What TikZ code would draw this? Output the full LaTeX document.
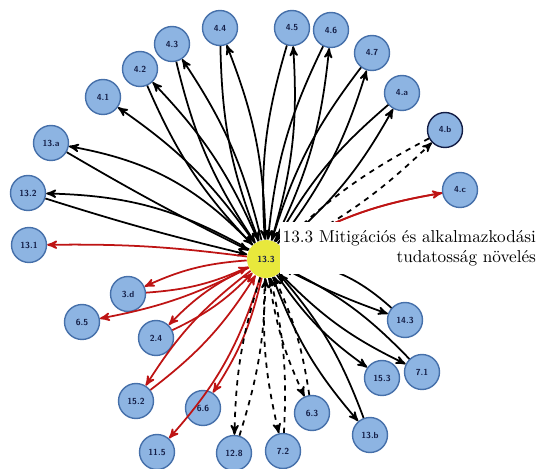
\documentclass[tikz,border=0pt]{standalone}
\usepackage{tikz}
\usetikzlibrary{arrows,positioning}
\definecolor{tblue}{RGB}{141,180,226}
\definecolor{tborder}{RGB}{70,112,170}
\definecolor{tnavy}{RGB}{20,30,70}
\definecolor{tyellow}{RGB}{232,232,60}
\definecolor{tred}{RGB}{190,20,20}
\tikzset{target node/.style={circle,fill=tblue,draw=tborder,line width=0.8pt,minimum size=7mm,inner sep=0pt,text=tnavy,font=\fontsize{5}{5}\selectfont\bfseries\sffamily},
         hub node/.style={circle,fill=tyellow,draw=none,minimum size=7.6mm,inner sep=0pt,text=tnavy,font=\fontsize{5}{5}\selectfont\bfseries\sffamily},
         caption/.style={rectangle,fill=white,draw=none,align=right,inner xsep=1.5pt,inner ysep=4.5pt,font=\fontsize{9.8}{11.4}\selectfont},
         out edge/.style={->,black,line width=1pt,bend right=10},
         back edge/.style={->,black,line width=1pt,bend right=10},
         red edge/.style={->,tred,line width=1pt,bend right=10},
         dash edge/.style={->,black,line width=1pt,dashed,bend right=8},
}

\begin{document}
\begin{tikzpicture}[>=stealth', x=0.02cm, y=-0.02cm]
\useasboundingbox (0,0) rectangle (541,469);
% hub
\node [hub node] (c) at (266,259) {13.3};
% upper left
\node [target node] (n44) at (220,28) {4.4};
\node [target node] (n43) at (172,44) {4.3};
\node [target node] (n42) at (140,69) {4.2};
\node [target node] (n41) at (103,97) {4.1};
\node [target node] (n13a) at (51,143) {13.a};
\node [target node] (n132) at (28,193) {13.2};
\node [target node] (n131) at (29,245) {13.1};
% upper right
\node [target node] (n45) at (292,28) {4.5};
\node [target node] (n46) at (331,30) {4.6};
\node [target node] (n47) at (372,53) {4.7};
\node [target node] (n4a) at (402,93) {4.a};
\node [target node, draw=tnavy] (n4b) at (445,130) {4.b};
\node [target node] (n4c) at (460,190) {4.c};
% lower left
\node [target node] (n3d) at (128,294) {3.d};
\node [target node] (n65) at (82,322) {6.5};
\node [target node] (n24) at (156,338) {2.4};
\node [target node] (n152) at (136,401) {15.2};
\node [target node] (n66) at (203,408) {6.6};
\node [target node] (n115) at (157,452) {11.5};
% lower right
\node [target node] (n128) at (234,453) {12.8};
\node [target node] (n72) at (283,451) {7.2};
\node [target node] (n63) at (312,413) {6.3};
\node [target node] (n13b) at (370,435) {13.b};
\node [target node] (n153) at (382,378) {15.3};
\node [target node] (n71) at (422,372) {7.1};
\node [target node] (n143) at (405,320) {14.3};

% black edges, top
\draw [out edge] (c) to (n44);
\draw [back edge] (n44) to (c);
\draw [out edge] (c) to (n43);
\draw [back edge] (n43) to (c);
\draw [out edge] (c) to (n42);
\draw [back edge] (n42) to (c);
\draw [out edge] (c) to (n41);
\draw [out edge, bend right=18] (c) to (n13a);
\draw [back edge, bend right=2] (n13a) to (c);
\draw [out edge, bend right=14] (c) to (n132);
\draw [back edge, bend right=2] (n132) to (c);
\draw [out edge] (c) to (n45);
\draw [back edge] (n45) to (c);
\draw [out edge] (c) to (n46);
\draw [back edge] (n46) to (c);
\draw [out edge] (c) to (n47);
\draw [back edge] (n47) to (c);
\draw [out edge] (c) to (n4a);
\draw [back edge] (n4a) to (c);
\draw [dash edge] (c) to (n4b);
\draw [dash edge] (n4b) to (c);
% red edges
\draw [red edge, bend left=10] (c) to (n4c);
\draw [red edge, -] (n4c) to (c);
\draw [red edge, bend right=4] (c) to (n131);
\draw [red edge] (c) to (n3d);
\draw [red edge] (n3d) to (c);
\draw [red edge, bend left=8] (c) to (n65);
\draw [red edge] (c) to (n24);
\draw [red edge] (n24) to (c);
\draw [red edge] (c) to (n152);
\draw [red edge] (n152) to (c);
\draw [red edge, bend left=10] (c) to (n66);
\draw [red edge, bend left=12] (c) to (n115);
% dashed edges, bottom
\draw [dash edge] (c) to (n128);
\draw [dash edge] (n128) to (c);
\draw [dash edge] (c) to (n72);
\draw [dash edge] (n72) to (c);
\draw [dash edge] (c) to (n63);
\draw [dash edge] (n63) to (c);
% black edges, lower right
\draw [out edge] (c) to (n13b);
\draw [back edge] (n13b) to (c);
\draw [out edge] (c) to (n153);
\draw [out edge] (c) to (n71);
\draw [back edge] (n71) to (c);
\draw [out edge, bend right=4] (c) to (n143);
\draw [back edge, bend right=18] (n143) to (c);

\node [caption, anchor=north east] (cap) at (539,222) {13.3 Mitigációs és alkalmazkodási\\tudatosság növelés};
\end{tikzpicture}
\end{document}
